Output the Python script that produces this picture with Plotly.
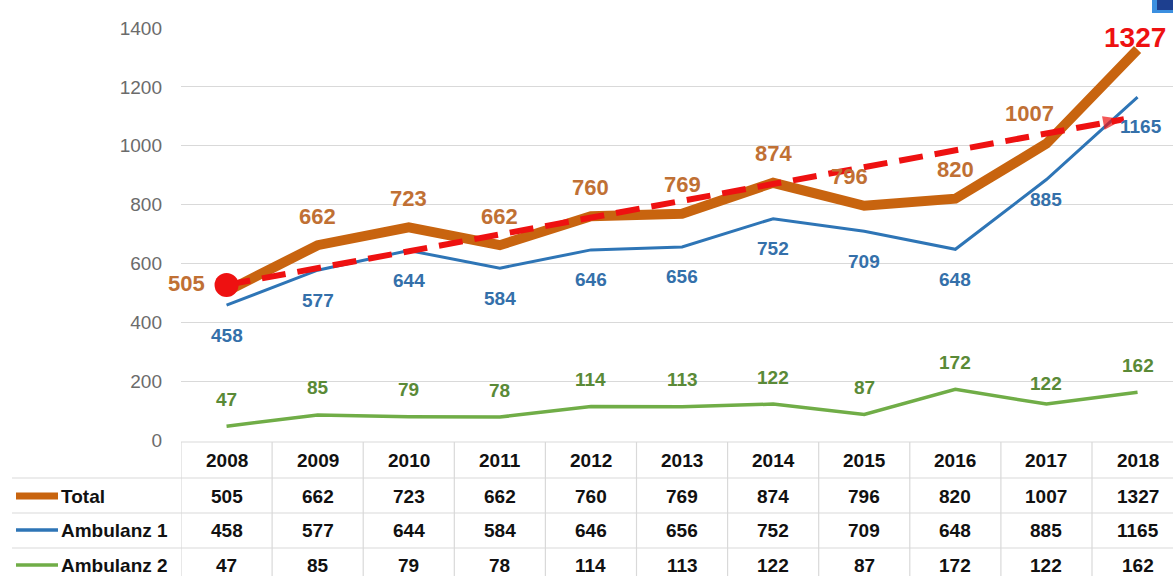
import plotly.graph_objects as go

years = [2008, 2009, 2010, 2011, 2012, 2013, 2014, 2015, 2016, 2017, 2018]
total = [505, 662, 723, 662, 760, 769, 874, 796, 820, 1007, 1327]
amb1 = [458, 577, 644, 584, 646, 656, 752, 709, 648, 885, 1165]
amb2 = [47, 85, 79, 78, 114, 113, 122, 87, 172, 122, 162]
series_names = ["Total", "Ambulanz 1", "Ambulanz 2"]
trend_x = [2008, 2017.85]
trend_y = [527, 1090]
y_ticks = [0, 200, 400, 600, 800, 1000, 1200, 1400]

W, H = 1173, 576
ML, MT, MB = 181, 28, 136
PW = W - ML
PH = H - MT - MB
BAND = 91.1

ORANGE = "#C8640F"
ORANGE_TXT = "#C07034"
BLUE = "#2E75B6"
BLUE_TXT = "#3470AA"
GREEN = "#70AD47"
GREEN_TXT = "#5A8A37"
RED = "#EE1111"
FONT = "Liberation Sans"


def py(p):
    return (H - MB - p) / PH


def px(p):
    return (p - ML) / PW


fig = go.Figure()

fig.add_trace(go.Scatter(x=years, y=amb2, mode="lines", line=dict(color=GREEN, width=3.5),
                         name=series_names[2], cliponaxis=False))
fig.add_trace(go.Scatter(x=years, y=amb1, mode="lines", line=dict(color=BLUE, width=3),
                         name=series_names[1], cliponaxis=False))
fig.add_trace(go.Scatter(x=years, y=total, mode="lines", line=dict(color=ORANGE, width=10),
                         name=series_names[0], cliponaxis=False))
fig.add_trace(go.Scatter(x=trend_x, y=trend_y, mode="lines",
                         line=dict(color=RED, width=6, dash="24px,12px"), cliponaxis=False))
fig.add_trace(go.Scatter(x=trend_x, y=trend_y, mode="markers", cliponaxis=False,
                         marker=dict(symbol="arrow", size=[0, 22], color=RED,
                                     angleref="previous", line=dict(width=0))))
fig.add_trace(go.Scatter(x=trend_x[:1], y=trend_y[:1], mode="markers", cliponaxis=False,
                         marker=dict(symbol="circle", size=24, color=RED, line=dict(width=0))))

ann = []
# label offsets (xshift, yshift) in px
off_total = {0: (-40, 8), 7: (-15, 29), 9: (-17, 30), 10: (-3, 12)}
off_amb1 = {9: (0, -20), 10: (3, -29)}
off_amb2 = {9: (0, 21)}
for i, yr in enumerate(years):
    xs, ys = off_total.get(i, (0, 29))
    big = i == len(years) - 1
    ann.append(dict(x=yr, y=total[i], text=str(total[i]), showarrow=False, xshift=xs, yshift=ys,
                    font=dict(family=FONT, size=28 if big else 22, color=RED if big else ORANGE_TXT,
                              weight="bold")))
    xs, ys = off_amb1.get(i, (0, -30))
    ann.append(dict(x=yr, y=amb1[i], text=str(amb1[i]), showarrow=False, xshift=xs, yshift=ys,
                    font=dict(family=FONT, size=19, color=BLUE_TXT, weight="bold")))
    xs, ys = off_amb2.get(i, (0, 27))
    ann.append(dict(x=yr, y=amb2[i], text=str(amb2[i]), showarrow=False, xshift=xs, yshift=ys,
                    font=dict(family=FONT, size=19, color=GREEN_TXT, weight="bold")))

# data table
row_y = [460, 496, 530, 565]
tfont = dict(family=FONT, size=19, color="#111111", weight="bold")
for i, yr in enumerate(years):
    ann.append(dict(x=yr, y=py(row_y[0]), yref="paper", text=str(yr), showarrow=False, font=tfont,
                    xanchor="center", yanchor="middle"))
    for r, vals in enumerate([total, amb1, amb2]):
        ann.append(dict(x=yr, y=py(row_y[r + 1]), yref="paper", text=str(vals[i]),
                        showarrow=False, font=tfont, xanchor="center", yanchor="middle"))
for r, name in enumerate(series_names):
    ann.append(dict(x=px(59), y=py(row_y[r + 1]), xref="paper", yref="paper", text=name,
                    showarrow=False, xanchor="left", yanchor="middle", font=tfont))

shapes = []
GRID = "#D9D9D9"
shapes.append(dict(type="line", xref="x", yref="paper", x0=years[0] - 0.5, x1=years[-1] + 0.5,
                   y0=py(442), y1=py(442), line=dict(color=GRID, width=1.2)))
for p in [478, 513, 548]:
    shapes.append(dict(type="line", xref="paper", yref="paper", x0=px(12), x1=1.05,
                       y0=py(p), y1=py(p), line=dict(color=GRID, width=1.2)))
for yr in years + [years[-1] + 1]:
    shapes.append(dict(type="line", xref="x", yref="paper", x0=yr - 0.5, x1=yr - 0.5,
                       y0=py(442), y1=py(580), line=dict(color=GRID, width=1.2)))
key_cols = [ORANGE, BLUE, GREEN]
key_w = [7, 3.5, 3.5]
for r in range(3):
    shapes.append(dict(type="line", xref="paper", yref="paper", x0=px(16), x1=px(58),
                       y0=py(row_y[r + 1]), y1=py(row_y[r + 1]),
                       line=dict(color=key_cols[r], width=key_w[r])))
# cropped logo corner
shapes.append(dict(type="rect", xref="paper", yref="paper", x0=px(1152), x1=px(1175),
                   y0=py(13), y1=py(-2), fillcolor="#3B8FE0", line=dict(width=0)))
shapes.append(dict(type="rect", xref="paper", yref="paper", x0=px(1157), x1=px(1175),
                   y0=py(10), y1=py(-2), fillcolor="#1D3F8F", line=dict(width=0)))

fig.update_layout(
    width=W, height=H,
    margin=dict(l=ML, r=0, t=MT, b=MB, pad=0),
    paper_bgcolor="white", plot_bgcolor="white",
    showlegend=False,
    annotations=ann, shapes=shapes,
    xaxis=dict(range=[years[0] - 0.5, years[0] - 0.5 + PW / BAND], showgrid=False,
               showticklabels=False, zeroline=False, showline=False, ticks=""),
    yaxis=dict(range=[0, 1400], tickvals=y_ticks, showgrid=True, gridcolor=GRID, gridwidth=1.2,
               zeroline=False, showline=False, ticks="", ticklabelstandoff=18,
               tickfont=dict(family=FONT, size=19, color="#6B6B6B")),
)

fig.write_html("out.html")
